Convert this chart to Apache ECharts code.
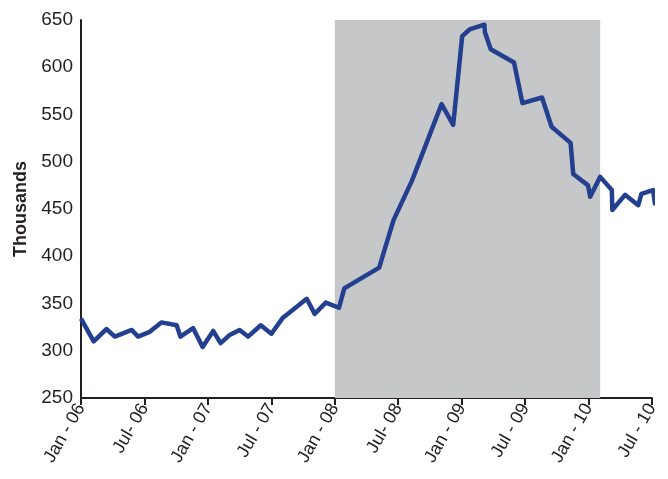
<!DOCTYPE html>
<html>
<head>
<meta charset="utf-8">
<script src="https://cdn.jsdelivr.net/npm/echarts@6/dist/echarts.min.js"></script>
<style>
html,body{margin:0;padding:0;background:#fff;}
#chart{width:668px;height:479px;}
</style>
</head>
<body>
<div id="chart"></div>
<script>
// months since Jan 2006
var monthIndex = [0, 1.2, 2.4, 3.2, 4.8, 5.4, 6.5, 7.6, 9.05, 9.4, 10.6, 11.5, 12.5, 13.2, 14.1, 15.0, 15.8, 17.0, 18.0, 19.1,
  21.35, 22.1, 23.15, 24.4, 24.9, 28.2, 29.55, 31.3, 34.1, 35.2, 36.05, 36.75, 38.15, 38.2, 38.75, 40.95, 41.75, 43.6, 44.5,
  46.3, 46.55, 47.95, 48.15, 49.1, 50.2, 50.25, 51.45, 52.7, 53.0, 54.1, 54.3];
var values = [334, 310, 323, 315, 322, 315, 320, 330, 327, 315, 324, 304, 321, 308, 317, 322, 315, 327, 318, 335,
  355, 339, 351, 345.5, 366, 388, 438, 480, 561, 539, 633, 640, 645, 637, 619, 605, 562, 568, 537,
  520, 487, 475, 463, 484, 470, 449, 465, 454, 466, 470, 454];
var tickLabels = ["Jan - 06", "Jul- 06", "Jan - 07", "Jul - 07", "Jan - 08", "Jul- 08", "Jan - 09", "Jul - 09", "Jan - 10", "Jul - 10"];
var shadeStart = 24, shadeEnd = 49.1;

var font = "'Liberation Sans', Arial, sans-serif";
var data = monthIndex.map(function (m, i) { return [m, values[i]]; });

var chart = echarts.init(document.getElementById('chart'));
chart.setOption({
  animation: false,
  grid: { left: 81, right: 16, top: 20, bottom: 81, containLabel: false },
  xAxis: {
    type: 'value', min: 0, max: 54, interval: 6,
    axisLine: { show: true, lineStyle: { color: '#231f20', width: 2 } },
    axisTick: { show: true, length: 7, lineStyle: { color: '#231f20', width: 2 } },
    splitLine: { show: false },
    axisLabel: {
      rotate: 60, margin: 7, color: '#231f20', fontSize: 18, fontFamily: font,
      formatter: function (v) { return tickLabels[Math.round(v / 6)] || ''; }
    }
  },
  yAxis: {
    type: 'value', min: 250, max: 650, interval: 50,
    name: 'Thousands', nameLocation: 'middle', nameGap: 49,
    nameTextStyle: { color: '#231f20', fontSize: 18, fontWeight: 'bold', fontFamily: font },
    axisLine: { show: true, lineStyle: { color: '#231f20', width: 2 } },
    axisTick: { show: false },
    splitLine: { show: false },
    axisLabel: { color: '#231f20', fontSize: 19, fontFamily: font, margin: 8 }
  },
  series: [{
    type: 'line', data: data, showSymbol: false, clip: false,
    lineStyle: { color: '#233f8f', width: 4.5, join: 'round' },
    itemStyle: { color: '#233f8f' },
    z: 3,
    markArea: {
      silent: true,
      itemStyle: { color: '#c6c7c9' },
      data: [[{ xAxis: shadeStart, yAxis: 250 }, { xAxis: shadeEnd, yAxis: 650 }]]
    }
  }]
});
</script>
</body>
</html>
